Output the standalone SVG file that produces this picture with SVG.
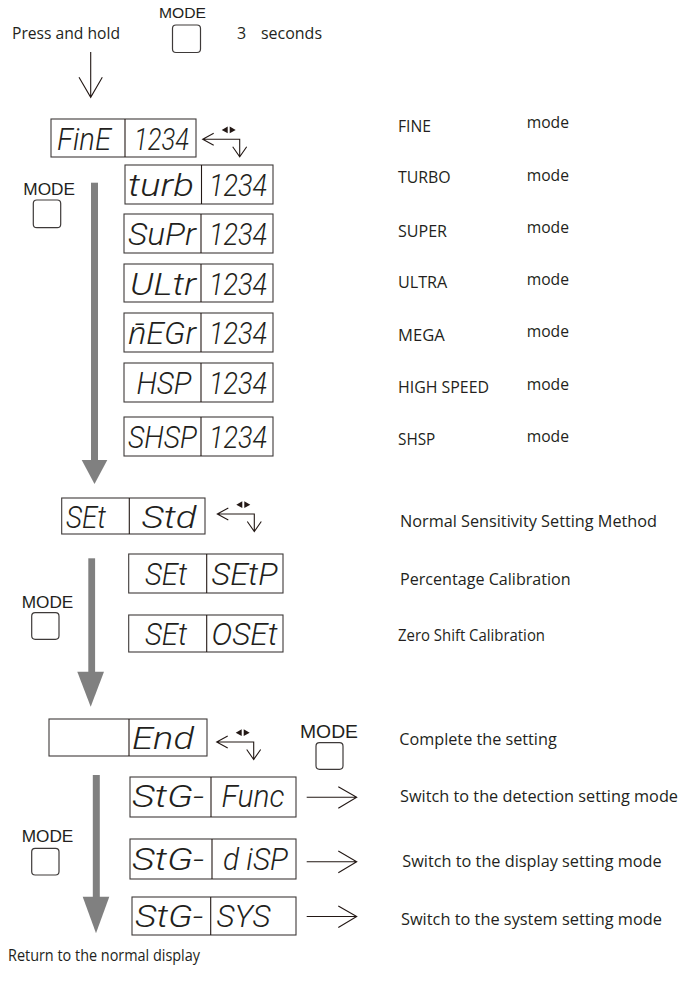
<svg xmlns="http://www.w3.org/2000/svg" width="681" height="992" viewBox="0 0 681 992">
<style>
.lbl{font-family:"Open Sans","Noto Sans",sans-serif;font-size:16px;fill:#231f20}
.md{font-family:"Liberation Sans",Arial,sans-serif;fill:#231f20}
.seg{font-family:Roboto,"Noto Sans",sans-serif;font-weight:300;font-style:italic;font-size:32px;fill:#231f20}
.box{fill:#fff;stroke:#3e3a39;stroke-width:1.1}
.btn{fill:#fff;stroke:#3e3a39;stroke-width:1.2}
.ln{fill:none;stroke:#231815;stroke-width:1.1}
.gray{fill:#808080}
</style>
<defs>
<g id="cyc">
<path class="ln" d="M11,-6 L0,0 L11,6 M0,0 H37 V17 M30,7.5 L37,17.5 L44,7.5"/>
<path fill="#231815" d="M19,-9.3 L25,-12.7 L25,-6 Z M27,-12.7 L33,-9.3 L27,-6 Z"/>
</g>
<g id="rarr"><path class="ln" d="M0,0 H50 M31.6,-10.6 L50,0 L31.6,11"/></g>
</defs>
<rect width="681" height="992" fill="#fff"/>

<g id="header">
<text class="lbl" x="12" y="39" textLength="108" lengthAdjust="spacingAndGlyphs">Press and hold</text>
<text class="md" x="159" y="18" font-size="15.5" textLength="47" lengthAdjust="spacingAndGlyphs">MODE</text>
<rect class="btn" x="172.5" y="25" width="28" height="27.5" rx="3.5"/>
<text class="lbl" x="237" y="39">3</text>
<text class="lbl" x="261" y="39" textLength="61" lengthAdjust="spacingAndGlyphs">seconds</text>
</g>

<g id="connectors">
<path class="ln" d="M90.7,52 V97.3 M79,77.3 L90.7,97.3 L102.3,77.3"/>
<use href="#cyc" x="202.7" y="139.3"/>
<use href="#cyc" x="217.3" y="514"/>
<use href="#cyc" x="216.7" y="742"/>
<rect class="gray" x="91" y="182.7" width="7" height="278"/>
<polygon class="gray" points="81.7,460 107.3,460 94.5,484"/>
<rect class="gray" x="88.3" y="558.3" width="6.8" height="114"/>
<polygon class="gray" points="77.3,671.7 104,671.7 90.7,706.7"/>
<rect class="gray" x="92.8" y="775" width="7" height="122"/>
<polygon class="gray" points="82.7,896.7 109.3,896.7 96,933.3"/>
<use href="#rarr" x="306.7" y="797.3"/>
<use href="#rarr" x="306.7" y="861.7"/>
<use href="#rarr" x="306.7" y="916.5"/>
</g>

<g id="mode-btn-1">
<text class="md" x="23.3" y="195" font-size="17" textLength="51.7" lengthAdjust="spacingAndGlyphs">MODE</text>
<rect class="btn" x="33.3" y="200" width="27.4" height="27.7" rx="3.5"/>
</g>
<g id="mode-btn-2">
<text class="md" x="21.7" y="608.3" font-size="17" textLength="51.6" lengthAdjust="spacingAndGlyphs">MODE</text>
<rect class="btn" x="31.7" y="612.7" width="27.3" height="26.6" rx="3.5"/>
</g>
<g id="mode-btn-3">
<text class="md" x="21.7" y="841.7" font-size="17" textLength="51.6" lengthAdjust="spacingAndGlyphs">MODE</text>
<rect class="btn" x="31.7" y="848.3" width="27.3" height="26.7" rx="3.5"/>
</g>
<g id="mode-btn-4">
<text class="md" x="300" y="738.3" font-size="18.5" textLength="58" lengthAdjust="spacingAndGlyphs">MODE</text>
<rect class="btn" x="316" y="742.7" width="27" height="26.6" rx="3.5"/>
</g>

<g id="fine">
<rect class="box" x="51" y="119" width="145" height="38"/><path class="ln" d="M125,119 V157"/>
<text class="seg" x="57" y="149.5" textLength="54" lengthAdjust="spacingAndGlyphs">FinE</text>
<text class="seg" x="134" y="149.5" textLength="55" lengthAdjust="spacingAndGlyphs">1234</text>
</g>
<g id="turb">
<rect class="box" x="125" y="165" width="148" height="39"/><path class="ln" d="M201.5,165 V204"/>
<text class="seg" x="128" y="196" textLength="66" lengthAdjust="spacingAndGlyphs">turb</text>
<text class="seg" x="209" y="196" textLength="58" lengthAdjust="spacingAndGlyphs">1234</text>
</g>
<g id="supr">
<rect class="box" x="124" y="214" width="149" height="39"/><path class="ln" d="M201,214 V253"/>
<text class="seg" x="128" y="245" textLength="68" lengthAdjust="spacingAndGlyphs">SuPr</text>
<text class="seg" x="209" y="245" textLength="58" lengthAdjust="spacingAndGlyphs">1234</text>
</g>
<g id="ultr">
<rect class="box" x="124" y="264" width="149" height="38"/><path class="ln" d="M201,264 V302"/>
<text class="seg" x="130" y="294.5" textLength="66" lengthAdjust="spacingAndGlyphs">ULtr</text>
<text class="seg" x="209" y="294.5" textLength="58" lengthAdjust="spacingAndGlyphs">1234</text>
</g>
<g id="megr">
<rect class="box" x="124" y="313" width="149" height="39"/><path class="ln" d="M201,313 V352"/>
<text class="seg" x="128" y="344" textLength="68" lengthAdjust="spacingAndGlyphs">n̄EGr</text>
<text class="seg" x="209" y="344" textLength="58" lengthAdjust="spacingAndGlyphs">1234</text>
</g>
<g id="hsp">
<rect class="box" x="124" y="363" width="149" height="39"/><path class="ln" d="M201,363 V402"/>
<text class="seg" x="136.5" y="394" textLength="55" lengthAdjust="spacingAndGlyphs">HSP</text>
<text class="seg" x="209" y="394" textLength="58" lengthAdjust="spacingAndGlyphs">1234</text>
</g>
<g id="shsp">
<rect class="box" x="124" y="417" width="149" height="39"/><path class="ln" d="M201,417 V456"/>
<text class="seg" x="128" y="448" textLength="69" lengthAdjust="spacingAndGlyphs">SHSP</text>
<text class="seg" x="209" y="448" textLength="58" lengthAdjust="spacingAndGlyphs">1234</text>
</g>

<g id="set-std">
<rect class="box" x="61.7" y="498" width="143.3" height="36"/><path class="ln" d="M129.3,498 V534"/>
<text class="seg" x="66" y="527.5" textLength="40" lengthAdjust="spacingAndGlyphs">SEt</text>
<text class="seg" x="141.5" y="527.5" textLength="55" lengthAdjust="spacingAndGlyphs">Std</text>
</g>
<g id="set-setp">
<rect class="box" x="128.7" y="554" width="154.3" height="39"/><path class="ln" d="M206.7,554 V593"/>
<text class="seg" x="145" y="585" textLength="42" lengthAdjust="spacingAndGlyphs">SEt</text>
<text class="seg" x="211.5" y="585" textLength="66" lengthAdjust="spacingAndGlyphs">SEtP</text>
</g>
<g id="set-oset">
<rect class="box" x="128.7" y="615" width="154.3" height="37"/><path class="ln" d="M206.7,615 V652"/>
<text class="seg" x="145" y="645" textLength="42" lengthAdjust="spacingAndGlyphs">SEt</text>
<text class="seg" x="211.5" y="645" textLength="66" lengthAdjust="spacingAndGlyphs">OSEt</text>
</g>

<g id="end">
<rect class="box" x="49" y="719" width="158" height="37"/><path class="ln" d="M129,719 V756"/>
<text class="seg" x="132" y="749" textLength="62" lengthAdjust="spacingAndGlyphs">End</text>
</g>
<g id="stg-func">
<rect class="box" x="130" y="777" width="166" height="40"/><path class="ln" d="M211,777 V817"/>
<text class="seg" x="132" y="806.5" textLength="72" lengthAdjust="spacingAndGlyphs">StG-</text>
<text class="seg" x="221.5" y="806.5" textLength="63" lengthAdjust="spacingAndGlyphs">Func</text>
</g>
<g id="stg-disp">
<rect class="box" x="130" y="839" width="166" height="40"/><path class="ln" d="M212,839 V879"/>
<text class="seg" x="132" y="869.5" textLength="72" lengthAdjust="spacingAndGlyphs">StG-</text>
<text class="seg" x="223" y="869.5" textLength="65" lengthAdjust="spacingAndGlyphs">d iSP</text>
</g>
<g id="stg-sys">
<rect class="box" x="132" y="897" width="164" height="38"/><path class="ln" d="M210.7,897 V935"/>
<text class="seg" x="135" y="927" textLength="68" lengthAdjust="spacingAndGlyphs">StG-</text>
<text class="seg" x="216.5" y="927" textLength="54" lengthAdjust="spacingAndGlyphs">SYS</text>
</g>

<g id="labels">
<text class="lbl" x="398" y="131.7" textLength="33" lengthAdjust="spacingAndGlyphs">FINE</text>
<text class="lbl" x="526.7" y="128.3" textLength="42.3" lengthAdjust="spacingAndGlyphs">mode</text>
<text class="lbl" x="398" y="183.3" textLength="52.7" lengthAdjust="spacingAndGlyphs">TURBO</text>
<text class="lbl" x="526.7" y="181" textLength="42.3" lengthAdjust="spacingAndGlyphs">mode</text>
<text class="lbl" x="398" y="236.7" textLength="49" lengthAdjust="spacingAndGlyphs">SUPER</text>
<text class="lbl" x="526.7" y="233.3" textLength="42.3" lengthAdjust="spacingAndGlyphs">mode</text>
<text class="lbl" x="398" y="288.3" textLength="49.3" lengthAdjust="spacingAndGlyphs">ULTRA</text>
<text class="lbl" x="526.7" y="285" textLength="42.3" lengthAdjust="spacingAndGlyphs">mode</text>
<text class="lbl" x="398" y="340.7" textLength="46.7" lengthAdjust="spacingAndGlyphs">MEGA</text>
<text class="lbl" x="526.7" y="337.3" textLength="42.3" lengthAdjust="spacingAndGlyphs">mode</text>
<text class="lbl" x="398" y="393.3" textLength="91" lengthAdjust="spacingAndGlyphs">HIGH SPEED</text>
<text class="lbl" x="526.7" y="390" textLength="42.3" lengthAdjust="spacingAndGlyphs">mode</text>
<text class="lbl" x="398" y="445" textLength="37.3" lengthAdjust="spacingAndGlyphs">SHSP</text>
<text class="lbl" x="526.7" y="442.3" textLength="42.3" lengthAdjust="spacingAndGlyphs">mode</text>
<text class="lbl" x="400" y="526.7" textLength="257" lengthAdjust="spacingAndGlyphs">Normal Sensitivity Setting Method</text>
<text class="lbl" x="400" y="585" textLength="170.7" lengthAdjust="spacingAndGlyphs">Percentage Calibration</text>
<text class="lbl" x="398" y="641" font-size="14" textLength="147" lengthAdjust="spacingAndGlyphs">Zero Shift Calibration</text>
<text class="lbl" x="399.3" y="745" textLength="157.4" lengthAdjust="spacingAndGlyphs">Complete the setting</text>
<text class="lbl" x="400" y="801.7" textLength="278" lengthAdjust="spacingAndGlyphs">Switch to the detection setting mode</text>
<text class="lbl" x="402.3" y="866.7" textLength="259.4" lengthAdjust="spacingAndGlyphs">Switch to the display setting mode</text>
<text class="lbl" x="401" y="925" textLength="261" lengthAdjust="spacingAndGlyphs">Switch to the system setting mode</text>
<text class="lbl" x="8" y="961" textLength="192" lengthAdjust="spacingAndGlyphs">Return to the normal display</text>
</g>
</svg>
